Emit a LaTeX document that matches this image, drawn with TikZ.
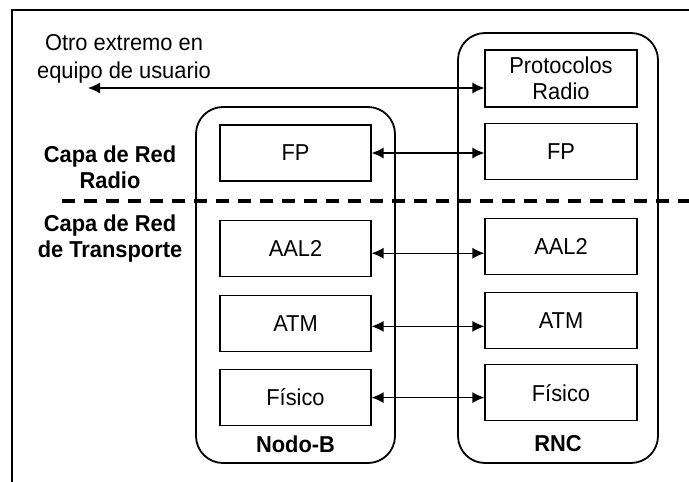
\documentclass[tikz,border=0pt]{standalone}
\usepackage{fontspec}
\setmainfont[FakeStretch=0.95]{Liberation Sans}
\usetikzlibrary{positioning,arrows.meta}

\begin{document}
\begin{tikzpicture}[x=1pt,y=-1pt,
  layer/.style = {draw, line width=1.2pt, minimum width=151pt, minimum height=56pt, inner sep=0pt, align=center, font=\fontsize{23}{26}\selectfont},
  stack/.style = {draw, line width=1.8pt, rounded corners=27pt, inner sep=0pt},
  tag/.style = {inner sep=0pt, align=center, font=\fontsize{23}{26}\selectfont\bfseries},
  link/.style = {{Latex[length=12pt,width=11pt]}-{Latex[length=12pt,width=11pt]}, line width=1.3pt},
  node distance={17pt}]
  \useasboundingbox (0,0) rectangle (689,482);
  \draw[line width=2pt] (12,482) -- (12,10) -- (689,10);

  % equipos
  \node[stack, minimum width=199pt, minimum height=356pt] (nodob) at (295.5,285) {};
  \node[stack, minimum width=200pt, minimum height=430pt] (rnc) at (558,248) {};
  \node[tag] (nodoblbl) at (295.5,444) {Nodo-B};
  \node[tag] (rnclbl) at (558,444) {RNC};

  % pila del Nodo-B
  \node[layer] (bfp) at (295.5,153) {FP};
  \node[layer] (baal) [below=38pt of bfp] {AAL2};
  \node[layer] (batm) [below=18pt of baal] {ATM};
  \node[layer] (bfis) [below=17pt of batm] {Físico};

  % pila del RNC
  \node[layer, minimum width=152pt, minimum height=57pt] (rprot) at (561,78.5) {Protocolos\\Radio};
  \node[layer, minimum width=152pt] (rfp) [below=15pt of rprot] {FP};
  \node[layer, minimum width=152pt] (raal) [below=38pt of rfp] {AAL2};
  \node[layer, minimum width=152pt] (ratm) [below=17pt of raal] {ATM};
  \node[layer, minimum width=152pt] (rfis) [below=15pt of ratm] {Físico};

  % textos a la izquierda
  \node[inner sep=0pt, align=center, font=\fontsize{23}{28}\selectfont] (ue) at (124,59) {Otro extremo en\\equipo de usuario};
  \node[tag] (radio) at (110,167) {Capa de Red\\Radio};
  \node[tag] (transp) at (110,239) {Capa de Red\\de Transporte};

  \draw[line width=4.5pt, dash pattern=on 13pt off 9pt] (62,201) -- (689,201);

  \coordinate (uefin) at (88,88);
  \draw[link] (uefin) -- (rprot.west |- uefin);
  \draw[link] (bfp.east) -- (bfp.east -| rfp.west);
  \draw[link] ([yshift=-5pt]baal.east) -- ([yshift=-5pt]baal.east -| raal.west);
  \draw[link] ([yshift=-3pt]batm.east) -- ([yshift=-3pt]batm.east -| ratm.west);
  \draw[link] (bfis.east) -- (bfis.east -| rfis.west);
\end{tikzpicture}
\end{document}
